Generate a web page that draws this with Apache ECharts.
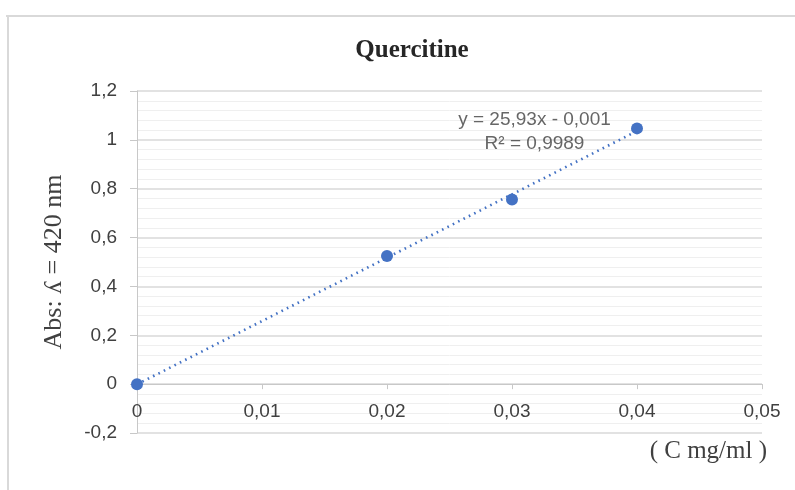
<!DOCTYPE html>
<html>
<head>
<meta charset="utf-8">
<script src="https://cdn.jsdelivr.net/npm/echarts@6/dist/echarts.min.js"></script>
<style>
html,body{margin:0;padding:0;background:#fff;}
#chart{width:795px;height:490px;}
</style>
</head>
<body>
<div id="chart"></div>
<script>
// Data
const concentrations = [0, 0.02, 0.03, 0.04];
const absorbances = [0, 0.525, 0.756, 1.047];
const trendCoefficients = [25.93, -0.001]; // slope, intercept
const trendRange = [0, 0.04];
const xTicks = [0, 0.01, 0.02, 0.03, 0.04, 0.05];
const yTicks = [-0.2, 0, 0.2, 0.4, 0.6, 0.8, 1, 1.2];
const titleText = 'Quercitine';
const xAxisName = '( C mg/ml )';
const yAxisName = 'Abs: ʎ = 420 nm';
const equationLines = ['y = 25,93x - 0,001', 'R² = 0,9989'];
const equationAnchor = [0.0318, 1.034];

const fmt = v => {
  const r = Math.round(v * 1000) / 1000;
  return String(r).replace('.', ',');
};

const points = concentrations.map((x, i) => [x, absorbances[i]]);
const trend = trendRange.map(x => [x, trendCoefficients[0] * x + trendCoefficients[1]]);

const gridTop = 91, gridHeight = 342;
const yMin = yTicks[0], yMax = yTicks[yTicks.length - 1];
const zeroOffset = -(0 - yMin) / (yMax - yMin) * gridHeight;

const chart = echarts.init(document.getElementById('chart'), null, {renderer: 'canvas'});
const blue = '#4472C4';
chart.setOption({
  animation: false,
  backgroundColor: '#fff',
  title: {
    text: titleText,
    left: 407, top: 33,
    textAlign: 'center',
    textStyle: {fontFamily: 'Liberation Serif', fontWeight: 'bold', fontSize: 25, color: '#262626'}
  },
  grid: {left: 137, top: gridTop, width: 625, height: gridHeight, containLabel: false, outerBoundsMode: 'none'},
  xAxis: {
    type: 'value',
    position: 'bottom',
    offset: zeroOffset,
    min: xTicks[0], max: xTicks[xTicks.length - 1], interval: 0.01,
    axisLine: {onZero: false, lineStyle: {color: '#c8c8c8', width: 1}},
    axisTick: {show: true, length: 5, lineStyle: {color: '#c8c8c8'}},
    axisLabel: {formatter: fmt, margin: 18, fontFamily: 'Liberation Sans', fontSize: 19, color: '#404040'},
    splitLine: {show: false},
    name: xAxisName,
    nameLocation: 'end',
    nameGap: 0,
    nameTextStyle: {fontFamily: 'Liberation Serif', fontSize: 25, color: '#404040', align: 'right', verticalAlign: 'top', padding: [55, -5, 0, 0]}
  },
  yAxis: {
    type: 'value',
    min: yMin, max: yMax, interval: 0.2,
    axisLine: {show: true, onZero: false, lineStyle: {color: '#c8c8c8', width: 1}},
    axisTick: {show: true, length: 7, lineStyle: {color: '#c8c8c8'}},
    axisLabel: {formatter: fmt, margin: 20, fontFamily: 'Liberation Sans', fontSize: 19, color: '#404040'},
    splitLine: {show: true, lineStyle: {color: '#d9d9d9', width: 1.5}},
    minorTick: {show: false, splitNumber: 5},
    minorSplitLine: {show: true, lineStyle: {color: '#efefef', width: 1}},
    name: yAxisName,
    nameLocation: 'middle',
    nameGap: 70,
    nameRotate: 90,
    nameTextStyle: {fontFamily: 'Liberation Serif', fontSize: 26, color: '#404040'}
  },
  graphic: [
    {type: 'line', shape: {x1: 6, y1: 16, x2: 795, y2: 16}, style: {stroke: '#d9d9d9', lineWidth: 2}},
    {type: 'line', shape: {x1: 8, y1: 16, x2: 8, y2: 490}, style: {stroke: '#d9d9d9', lineWidth: 2}}
  ],
  series: [
    {
      type: 'line',
      data: trend,
      symbol: 'none',
      lineStyle: {color: blue, width: 2.6, type: [1.6, 4.4]},
      z: 2
    },
    {
      type: 'scatter',
      data: points,
      symbolSize: 12,
      itemStyle: {color: blue, opacity: 1},
      z: 3
    },
    {
      type: 'scatter',
      data: [equationAnchor],
      symbolSize: 0,
      silent: true,
      label: {
        show: true,
        formatter: equationLines.join('\n'),
        position: 'inside',
        align: 'center',
        lineHeight: 24,
        fontFamily: 'Liberation Sans',
        fontSize: 19,
        color: '#404040'
      },
      z: 4
    }
  ]
});
</script>
</body>
</html>
